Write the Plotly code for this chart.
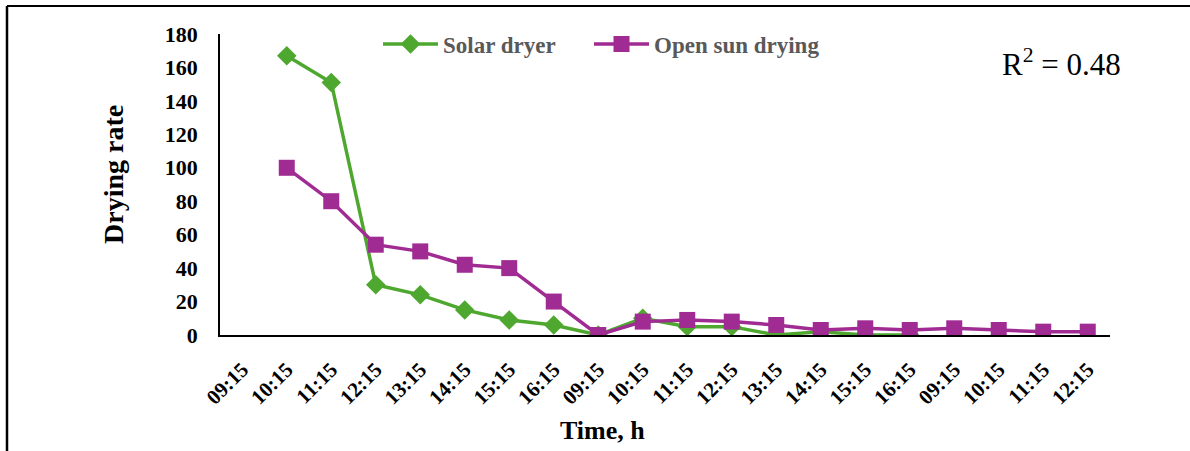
import plotly.graph_objects as go

time_labels = ["09:15", "10:15", "11:15", "12:15", "13:15", "14:15", "15:15", "16:15",
               "09:15", "10:15", "11:15", "12:15", "13:15", "14:15", "15:15", "16:15",
               "09:15", "10:15", "11:15", "12:15"]
positions = list(range(len(time_labels)))

solar_dryer = [None, 167, 151, 30, 24, 15, 9, 6, 0, 10, 5, 5, 0, 2, 0, 0, None, None, None, None]
open_sun = [None, 100, 80, 54, 50, 42, 40, 20, 0, 8, 9, 8, 6, 3, 4, 3, 4, 3, 2, 2]

y_ticks = [0, 20, 40, 60, 80, 100, 120, 140, 160, 180]

GREEN = "#4EA72E"
PURPLE = "#A02B93"
FONT = "Liberation Serif"

fig = go.Figure()
fig.add_trace(go.Scatter(
    x=positions, y=solar_dryer, name="Solar dryer", mode="lines+markers",
    line=dict(color=GREEN, width=3.5),
    marker=dict(symbol="diamond", size=15, color=GREEN),
    connectgaps=False, legend="legend",
))
fig.add_trace(go.Scatter(
    x=positions, y=open_sun, name="Open sun drying", mode="lines+markers",
    line=dict(color=PURPLE, width=3.5),
    marker=dict(symbol="square", size=16, color=PURPLE),
    legend="legend2",
))

# plot area in pixels: x 220..1110, y 34..335
L, R, T, B = 220, 1110, 34, 335
W, H = R - L, B - T

def px(xp):
    return (xp - L) / W

def py(yp):
    return (B - yp) / H

legend_style = dict(
    orientation="h", y=py(44), xanchor="left", yanchor="middle",
    font=dict(family=FONT, size=23, color="#595959", weight="bold"),
    bgcolor="rgba(0,0,0,0)", itemwidth=55,
)

fig.update_layout(
    width=1190, height=451,
    margin=dict(l=L, r=1190 - R, t=T, b=451 - B, autoexpand=False),
    paper_bgcolor="white", plot_bgcolor="white",
    font=dict(family=FONT, color="black"),
    showlegend=True,
    legend=dict(x=px(378), **legend_style),
    legend2=dict(x=px(589), **legend_style),
    xaxis=dict(
        range=[-0.5, len(time_labels) - 0.5],
        tickmode="array", tickvals=positions, ticktext=time_labels,
        tickangle=-45, showgrid=False, zeroline=False,
        showline=True, linecolor="black", linewidth=2,
        ticks="", ticklabelstandoff=12,
        tickfont=dict(family=FONT, size=21, color="black", weight="bold"),
    ),
    yaxis=dict(
        range=[0, 180], tickmode="array", tickvals=y_ticks,
        showgrid=False, zeroline=False, showline=True, linecolor="black", linewidth=1.5,
        ticks="", ticklabelstandoff=16,
        tickfont=dict(family=FONT, size=22, color="black", weight="bold"),
    ),
    annotations=[
        dict(text="R<sup>2</sup> = 0.48", x=px(1000), y=py(62), xref="paper", yref="paper",
             xanchor="left", yanchor="middle", showarrow=False,
             font=dict(family=FONT, size=31, color="black")),
        dict(text="<b>Time, h</b>", x=px(602), y=py(430), xref="paper", yref="paper",
             xanchor="center", yanchor="middle", showarrow=False,
             font=dict(family=FONT, size=26, color="black")),
        dict(text="<b>Drying rate</b>", x=px(113), y=py(175), xref="paper", yref="paper",
             xanchor="center", yanchor="middle", showarrow=False, textangle=-90,
             font=dict(family=FONT, size=28, color="black")),
    ],
    shapes=[
        dict(type="line", xref="paper", yref="paper", x0=px(7), y0=py(6), x1=px(1192), y1=py(6),
             line=dict(color="black", width=2)),
        dict(type="line", xref="paper", yref="paper", x0=px(7), y0=py(6), x1=px(7), y1=py(460),
             line=dict(color="black", width=2.5)),
    ],
)

fig.write_html("out.html", config={"displayModeBar": False},
               post_script="document.body.style.margin='0px';")
